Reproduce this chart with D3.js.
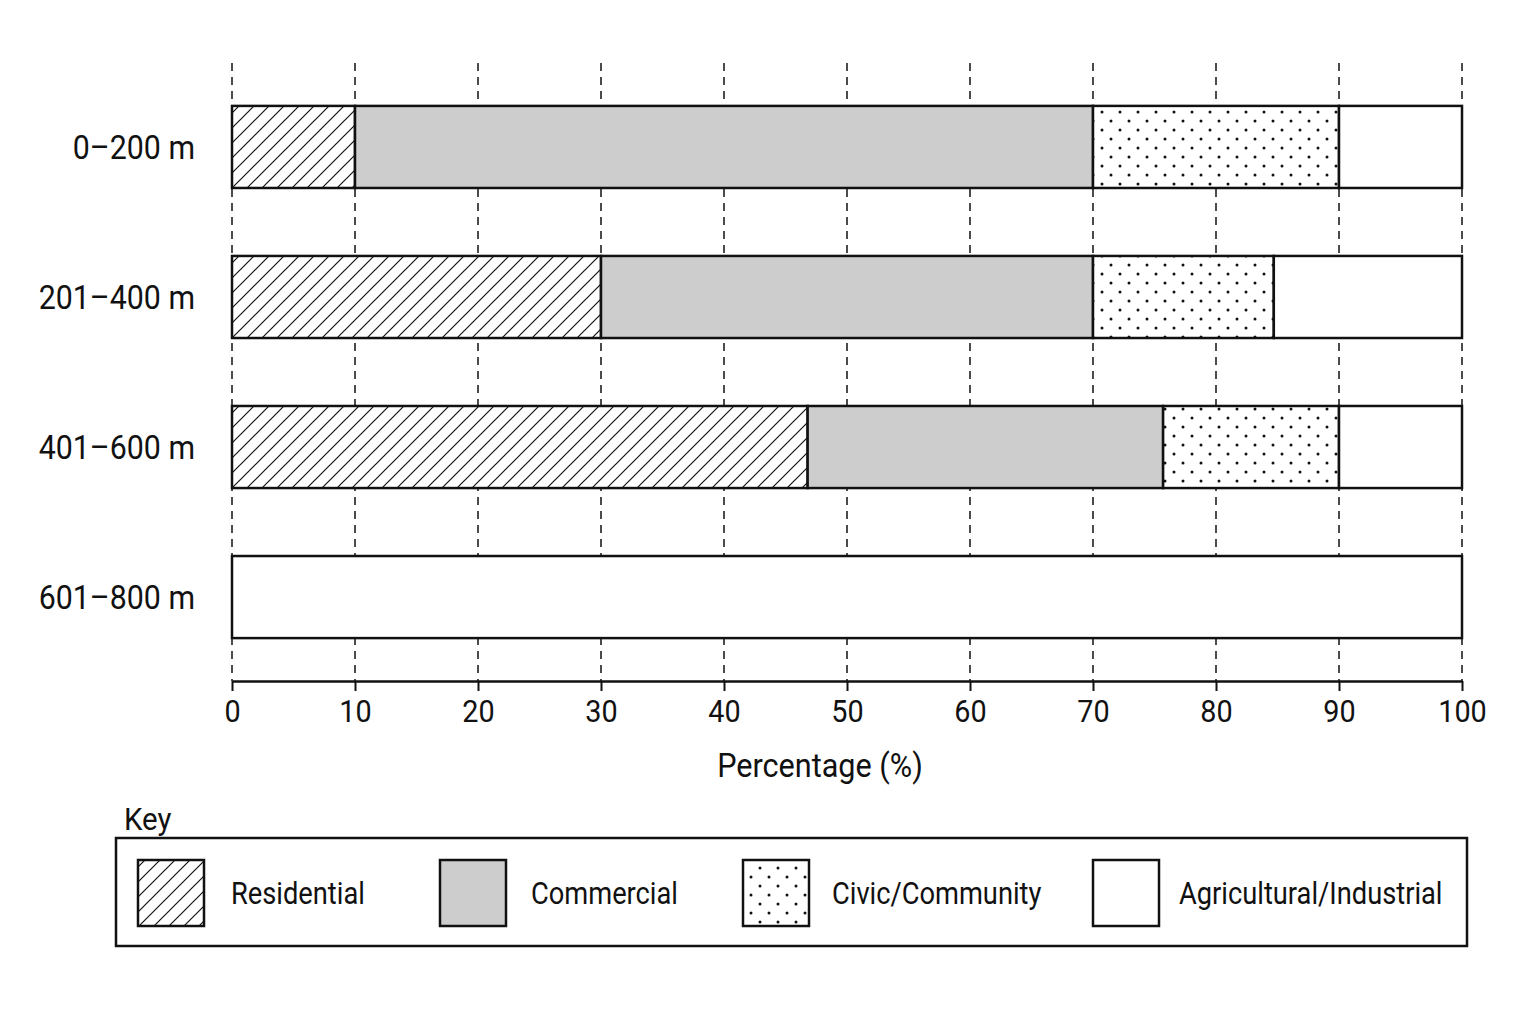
<!DOCTYPE html>
<html>
<head>
<meta charset="utf-8">
<script src="https://cdn.jsdelivr.net/npm/d3@7"></script>
<title>Land use by distance</title>
<style>
  body { margin: 0; background: #fff; }
  text { font-family: "Roboto", "Liberation Sans", sans-serif; fill: #111; }
</style>
</head>
<body>
<script>
// data (percent of land use per distance band)
var bands = ["0\u2013200 m", "201\u2013400 m", "401\u2013600 m", "601\u2013800 m"];
var landUses = ["Residential", "Commercial", "Civic/Community", "Agricultural/Industrial"];
var residential = [10, 30, 46.8, 0];
var commercial = [60, 40, 28.9, 0];
var civic = [20, 14.7, 14.3, 0];
var agricultural = [10, 15.3, 10, 100];
var xTicks = [0, 10, 20, 30, 40, 50, 60, 70, 80, 90, 100];

var series = [residential, commercial, civic, agricultural];
var fills = ["url(#hatch)", "#cdcdcd", "url(#dots)", "#fff"];

var W = 1536, H = 1024;
var svg = d3.select("body").append("svg")
  .attr("width", W)
  .attr("height", H);

var defs = svg.append("defs");
var hatch = defs.append("pattern")
  .attr("id", "hatch")
  .attr("patternUnits", "userSpaceOnUse")
  .attr("width", 15).attr("height", 15);
hatch.append("rect").attr("width", 15).attr("height", 15).attr("fill", "#fff");
hatch.append("path")
  .attr("d", "M0,15 L15,0 M-7.5,7.5 L7.5,-7.5 M7.5,22.5 L22.5,7.5")
  .attr("stroke", "#111").attr("stroke-width", 1.2);

var dots = defs.append("pattern")
  .attr("id", "dots")
  .attr("patternUnits", "userSpaceOnUse")
  .attr("width", 18).attr("height", 18);
dots.append("rect").attr("width", 18).attr("height", 18).attr("fill", "#fff");
dots.append("circle").attr("cx", 4).attr("cy", 4).attr("r", 1.5).attr("fill", "#111");
dots.append("circle").attr("cx", 13).attr("cy", 13).attr("r", 1.5).attr("fill", "#111");

var x = d3.scaleLinear().domain([0, 100]).range([232, 1462]);
var y = d3.scaleBand().domain(bands).range([72, 672]).paddingInner(0.453).paddingOuter(0.226);
var axisY = 681;

// dashed gridlines (behind bars)
svg.append("g").selectAll("line")
  .data(xTicks)
  .enter().append("line")
  .attr("x1", function(d) { return x(d); })
  .attr("x2", function(d) { return x(d); })
  .attr("y1", 63)
  .attr("y2", axisY)
  .attr("stroke", "#111")
  .attr("stroke-width", 1.5)
  .attr("stroke-dasharray", "8,6");

// stacked bars
var stack = [];
bands.forEach(function(b, i) {
  var start = 0;
  series.forEach(function(s, k) {
    if (s[i] > 0) stack.push({ band: b, k: k, x0: start, x1: start + s[i] });
    start += s[i];
  });
});

svg.append("g").selectAll("rect")
  .data(stack)
  .enter().append("rect")
  .attr("x", function(d) { return x(d.x0); })
  .attr("y", function(d) { return y(d.band); })
  .attr("width", function(d) { return x(d.x1) - x(d.x0); })
  .attr("height", y.bandwidth())
  .attr("fill", function(d) { return fills[d.k]; })
  .attr("stroke", "#111")
  .attr("stroke-width", 2.5);

// x axis
var xAxis = svg.append("g")
  .attr("transform", "translate(0," + axisY + ")")
  .call(d3.axisBottom(x).tickValues(xTicks).tickSize(10).tickPadding(8).tickSizeOuter(0));
xAxis.select(".domain").attr("stroke", "#111").attr("stroke-width", 2.5);
xAxis.selectAll(".tick line").attr("stroke", "#111").attr("stroke-width", 2);
xAxis.selectAll(".tick text")
  .style("font-size", "32px")
  .attr("transform", "scale(0.9,1)")
  .attr("fill", "#111");

svg.append("text")
  .attr("transform", "translate(820,777) scale(0.9,1)")
  .attr("text-anchor", "middle")
  .style("font-size", "34px")
  .text("Percentage (%)");

// category labels (condensed look)
svg.append("g").selectAll("text")
  .data(bands)
  .enter().append("text")
  .attr("transform", function(d) {
    return "translate(195," + (y(d) + y.bandwidth() / 2) + ") scale(0.92,1)";
  })
  .attr("dy", "0.35em")
  .attr("text-anchor", "end")
  .style("font-size", "33px")
  .text(function(d) { return d; });

// key
svg.append("text")
  .attr("transform", "translate(124,830) scale(0.92,1)")
  .style("font-size", "32px")
  .text("Key");

svg.append("rect")
  .attr("x", 116).attr("y", 838)
  .attr("width", 1351).attr("height", 108)
  .attr("fill", "none").attr("stroke", "#111").attr("stroke-width", 2.5);

var keyX = [138, 440, 743, 1093];
var keyTextX = [231, 531, 832, 1179];
var key = svg.append("g").selectAll("g")
  .data(landUses)
  .enter().append("g");
key.append("rect")
  .attr("x", function(d, i) { return keyX[i]; })
  .attr("y", 860)
  .attr("width", 66).attr("height", 66)
  .attr("fill", function(d, i) { return fills[i]; })
  .attr("stroke", "#111").attr("stroke-width", 2.5);
key.append("text")
  .attr("transform", function(d, i) { return "translate(" + keyTextX[i] + ",893) scale(0.88,1)"; })
  .attr("dy", "0.35em")
  .style("font-size", "31px")
  .text(function(d) { return d; });
</script>
</body>
</html>
